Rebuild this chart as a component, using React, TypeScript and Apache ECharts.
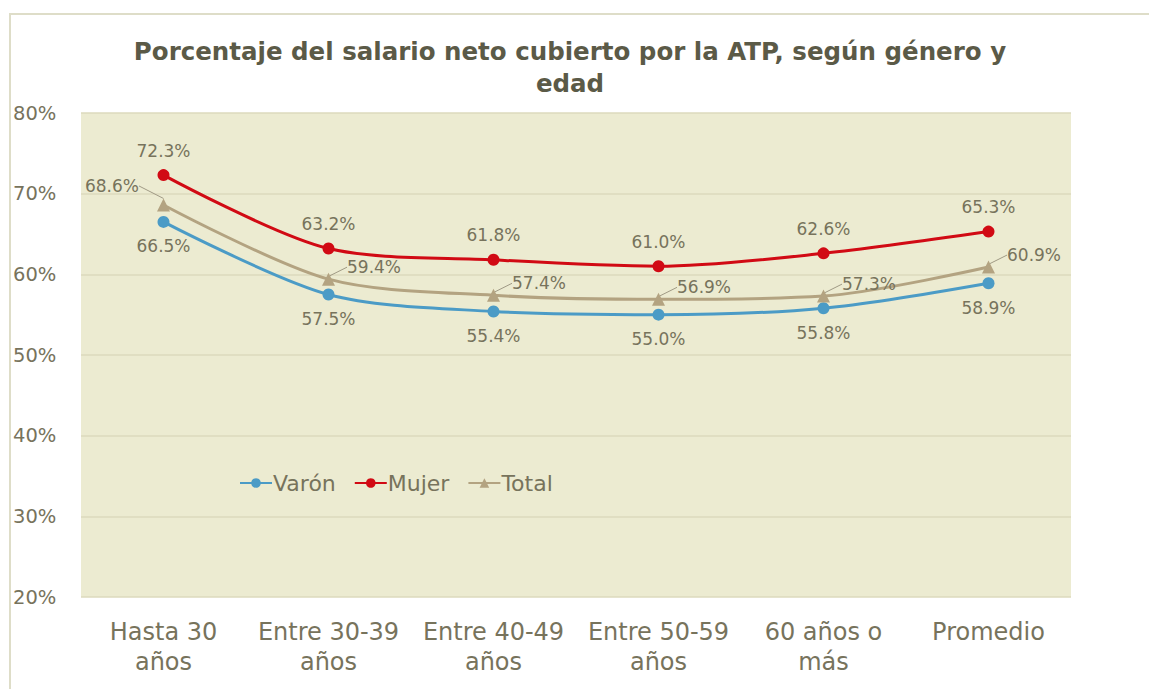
import React, { useEffect, useRef } from "react";
import * as echarts from "echarts";

const categories = ["Hasta 30\naños", "Entre 30-39\naños", "Entre 40-49\naños", "Entre 50-59\naños", "60 años o\nmás", "Promedio"];
const varon = [66.5, 57.5, 55.4, 55.0, 55.8, 58.9];
const mujer = [72.3, 63.2, 61.8, 61.0, 62.6, 65.3];
const total = [68.6, 59.4, 57.4, 56.9, 57.3, 60.9];
const yTicks = [20, 30, 40, 50, 60, 70, 80];

const TEXT = "#77735c";
const FONT = "DejaVu Sans";

export default function App() {
  const ref = useRef<HTMLDivElement>(null);
  useEffect(() => {
    const chart = echarts.init(ref.current!, null, { renderer: "svg" });
    const fmt = (p: any) => Number(p.value).toFixed(1) + "%";
    chart.setOption({
      animation: false,
      backgroundColor: "#ffffff",
      textStyle: { fontFamily: FONT },
      title: {
        text: "Porcentaje del salario neto cubierto por la ATP, según género y\nedad",
        left: 565,
        top: 30,
        textAlign: "center",
        textStyle: { fontFamily: FONT, fontSize: 24.5, fontWeight: "bold", color: "#5b5a47", lineHeight: 32 },
      },
      graphic: [
        {
          type: "rect",
          shape: { x: 10, y: 14, width: 1200, height: 700 },
          style: { fill: "none", stroke: "#deddc8", lineWidth: 2 },
          silent: true,
        },
      ],
      legend: {
        left: 234,
        top: 467,
        itemWidth: 32,
        itemHeight: 12,
        itemGap: 18,
        textStyle: { color: TEXT, fontSize: 22, fontFamily: FONT, padding: [0, 0, 0, -4] },
        data: ["Varón", "Mujer", "Total"],
      },
      grid: {
        left: 81,
        right: 78,
        top: 113,
        bottom: 92,
        show: true,
        backgroundColor: "#ecebd1",
        borderWidth: 0,
      },
      xAxis: {
        type: "category",
        data: categories,
        boundaryGap: true,
        axisLine: { show: false },
        axisTick: { show: false },
        axisLabel: { color: TEXT, fontSize: 24, lineHeight: 30, margin: 20, interval: 0, fontFamily: FONT },
      },
      yAxis: {
        type: "value",
        min: 20,
        max: 80,
        interval: 10,
        axisLine: { show: false },
        axisTick: { show: false },
        splitLine: { lineStyle: { color: "#dcdabd", width: 1.5 } },
        axisLabel: {
          color: TEXT,
          fontSize: 19.5,
          align: "left",
          margin: 68,
          fontFamily: FONT,
          formatter: (v: number) => (yTicks.includes(v) ? v + "%" : ""),
        },
      },
      series: [
        {
          name: "Varón",
          type: "line",
          data: varon,
          smooth: 0.3,
          symbol: "circle",
          symbolSize: 12,
          lineStyle: { color: "#4b9bc6", width: 3 },
          itemStyle: { color: "#4b9bc6" },
          label: { show: true, position: "bottom", distance: 10, color: TEXT, fontSize: 17, formatter: fmt, fontFamily: FONT },
          z: 3,
        },
        {
          name: "Mujer",
          type: "line",
          data: mujer,
          smooth: 0.3,
          symbol: "circle",
          symbolSize: 12,
          lineStyle: { color: "#d10a14", width: 3 },
          itemStyle: { color: "#d10a14" },
          label: { show: true, position: "top", distance: 10, color: TEXT, fontSize: 17, formatter: fmt, fontFamily: FONT },
          z: 4,
        },
        {
          name: "Total",
          type: "line",
          data: total.map((v, i) =>
            i === 0 ? { value: v, label: { position: "left", distance: 18 } } : { value: v }
          ),
          smooth: 0.3,
          symbol: "triangle",
          symbolSize: 13,
          lineStyle: { color: "#b3a381", width: 3 },
          itemStyle: { color: "#b3a381" },
          label: { show: true, position: "right", distance: 12, color: TEXT, fontSize: 17, formatter: fmt, fontFamily: FONT },
          labelLine: { show: true, lineStyle: { color: "#a09a85", width: 1 } },
          labelLayout: (p: any) => (p.dataIndex === 0 ? { dy: -19 } : { dy: -12 }),
          z: 5,
        },
      ],
    });
    return () => chart.dispose();
  }, []);
  return (
    <div
      ref={ref}
      style={{ position: "fixed", left: 0, top: 0, width: 1149, height: 689 }}
    />
  );
}
